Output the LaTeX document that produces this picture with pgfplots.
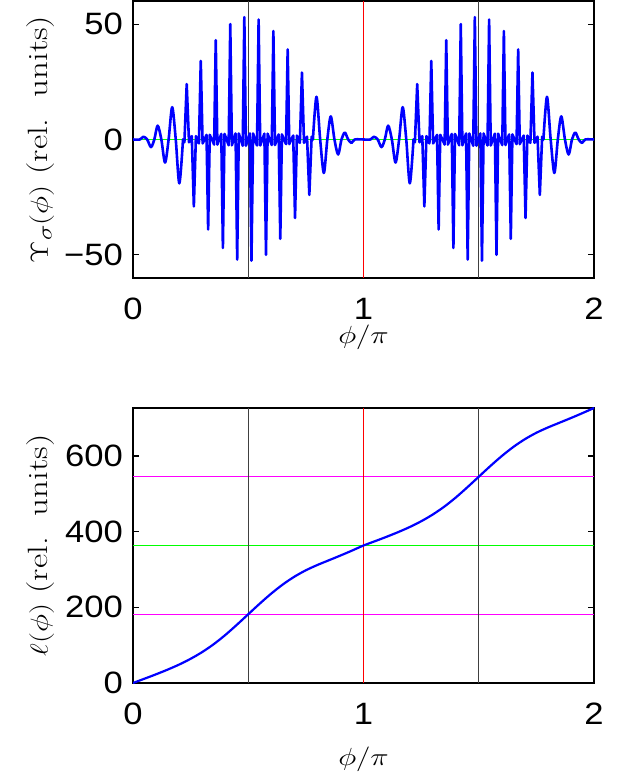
\documentclass[border=0pt]{standalone}
\usepackage{fontspec}
\usepackage{graphicx}
\usepackage{pgfplots}
\pgfplotsset{compat=1.18}
\usepackage{pgfplotstable}
\newfontfamily\arial{Liberation Sans}[FakeStretch=1.12]
\definecolor{mblue}{rgb}{0,0,1}
\definecolor{mgreen}{rgb}{0,1,0}
\definecolor{mred}{rgb}{1,0,0}
\definecolor{mmag}{rgb}{1,0,1}
\definecolor{mgray}{rgb}{0.25,0.25,0.25}
\newcommand{\lab}[1]{\scalebox{1.25}[1]{\fontsize{28}{32}\selectfont #1}}

% Upsilon_sigma over one period (0..1), repeated for 1..2
\pgfplotstableread{
x y
0.000 0
0.030 0
0.045 1.2
0.0615 0
0.078 -3.3
0.0925 0
0.107 6
0.123 0
0.139 -10
0.1545 0
0.170 14
0.1855 0
0.201 -19
0.217 0
}\upsA
\pgfplotstableread{
x y
0.217 0
0.223 -1.2
0.233 24
0.243 -1.2
0.249 0
0.255 1.45
0.264 -29
0.273 1.45
0.2795 0
0.286 -1.7
0.294 34
0.302 -1.7
0.3105 0
0.319 2
0.326 -39
0.333 2
0.3425 0
0.352 -2.2
0.359 43
0.366 -2.2
0.3745 0
0.383 2.4
0.390 -47
0.397 2.4
0.406 0
0.415 -2.5
0.422 50
0.429 -2.5
0.437 0
0.445 2.6
0.452 -52
0.459 2.6
0.4675 0
0.476 -2.7
0.483 53
0.490 -2.7
0.4985 0
0.507 2.6
0.514 -52.5
0.521 2.6
0.5295 0
0.538 -2.6
0.545 52
0.552 -2.6
0.561 0
0.570 2.5
0.577 -50
0.584 2.5
0.593 0
0.602 -2.4
0.609 47
0.616 -2.4
0.624 0
0.632 2.2
0.639 -43
0.646 2.2
0.655 0
0.664 -2
0.671 39
0.678 -2
0.6865 0
0.695 1.7
0.703 -34
0.711 1.7
0.7175 0
0.724 -1.45
0.733 29
0.742 -1.45
0.7485 0
0.755 1.2
0.765 -24
0.775 1.2
0.7805 0
}\upsB
\pgfplotstableread{
x y
0.7805 0
0.796 18.5
0.812 0
0.828 -14.5
0.843 0
0.858 10
0.874 0
0.890 -6.5
0.9045 0
0.919 3
0.9335 0
0.948 -1.5
0.962 0
1.000 0
}\upsC

% ell(phi)
\pgfplotstableread{
x y
0 0
0.05 11.4
0.1 23
0.15 35.3
0.2 48.7
0.25 64
0.3 81.7
0.35 102.5
0.4 126.7
0.45 153.6
0.5 181.75
0.55 209.9
0.6 236.5
0.65 260.5
0.7 281
0.75 298
0.8 312
0.85 324.5
0.9 337
0.95 350
1.0 363.5
1.05 374.9
1.1 386.5
1.15 398.8
1.2 412.2
1.25 427.5
1.3 445.2
1.35 466
1.4 490.2
1.45 517.1
1.5 545.25
1.55 573.4
1.6 600
1.65 624
1.7 644.5
1.75 661.5
1.8 675.5
1.85 688
1.9 700.5
1.95 713.5
2.0 727
}\elltab

\pgfplotsset{
  myax/.style={
    scale only axis, width=461bp,
    xmin=0, xmax=2, xtick={0,1,2},
    tick align=inside, major tick length=6bp,
    axis line style={line width=1.3bp},
    every tick/.style={black, line width=1.1bp},
    tick label style={font=\fontsize{31}{31}\arial},
    /pgf/number format/assume math mode=true,
    xticklabel style={inner sep=0pt, anchor=north, yshift=-20bp},
    yticklabel style={inner sep=0pt, anchor=east, xshift=-10bp},
  },
  vline/.style={draw=mgray, line width=1.3bp, forget plot},
  redline/.style={draw=mred, line width=1.3bp, forget plot},
  hline/.style={line width=1.4bp, forget plot},
  blueline/.style={draw=mblue, line width=2.6bp, line join=round, line cap=round},
}

\begin{document}
\begin{tikzpicture}
\useasboundingbox (0,0) rectangle (632bp,777bp);

\begin{axis}[myax, at={(133bp,499bp)}, anchor=south west, height=277bp,
  ymin=-60, ymax=60, ytick={-50,0,50}, yticklabels={−50,0,50},
  xlabel={\lab{$\phi/\pi$}},
  ylabel={\lab{$\Upsilon_\sigma(\phi)$ (rel.\ \ units)}},
  xlabel style={at={(axis description cs:0.5,-0.2148)}, anchor=center},
  ylabel style={at={(axis description cs:-0.1996,0.5)}, anchor=center}]
  \addplot[hline, draw=mgreen] coordinates {(0,0) (2,0)};
  \addplot[vline] coordinates {(0.5,-60) (0.5,60)};
  \addplot[redline] coordinates {(1,-60) (1,60)};
  \addplot[vline] coordinates {(1.5,-60) (1.5,60)};
  \addplot[blueline, smooth] table[x=x, y=y] {\upsA};
  \addplot[blueline] table[x=x, y=y] {\upsB};
  \addplot[blueline, smooth] table[x=x, y=y] {\upsC};
  \addplot[blueline, smooth] table[x expr=\thisrow{x}+1, y=y] {\upsA};
  \addplot[blueline] table[x expr=\thisrow{x}+1, y=y] {\upsB};
  \addplot[blueline, smooth] table[x expr=\thisrow{x}+1, y=y] {\upsC};
\end{axis}

\begin{axis}[myax, at={(133bp,94bp)}, anchor=south west, height=275bp,
  ymin=0, ymax=727, ytick={0,200,400,600},
  xlabel={\lab{$\phi/\pi$}},
  ylabel={\lab{$\ell(\phi)$ (rel.\ \ units)}},
  xlabel style={at={(axis description cs:0.5,-0.2764)}, anchor=center},
  ylabel style={at={(axis description cs:-0.1996,0.5)}, anchor=center}]
  \addplot[hline, draw=mmag] coordinates {(0,181.75) (2,181.75)};
  \addplot[hline, draw=mgreen] coordinates {(0,363.5) (2,363.5)};
  \addplot[hline, draw=mmag] coordinates {(0,545.25) (2,545.25)};
  \addplot[vline] coordinates {(0.5,0) (0.5,727)};
  \addplot[redline] coordinates {(1,0) (1,727)};
  \addplot[vline] coordinates {(1.5,0) (1.5,727)};
  \addplot[blueline, line width=2.2bp, smooth] table[x=x, y=y] {\elltab};
\end{axis}
\end{tikzpicture}
\end{document}
